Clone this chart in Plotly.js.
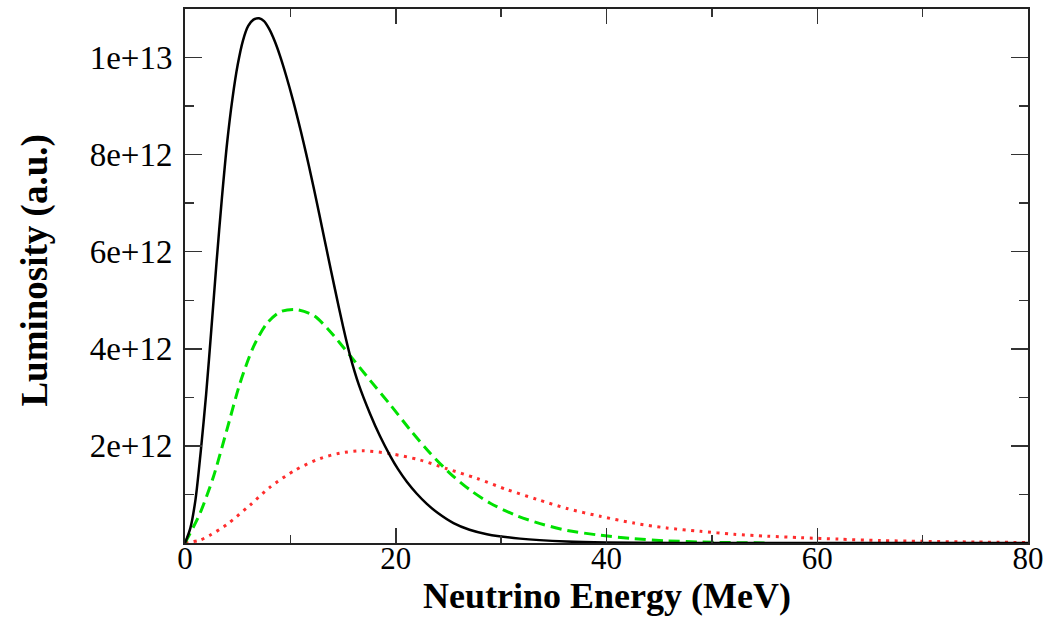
<!DOCTYPE html>
<html>
<head>
<meta charset="utf-8">
<script src="https://cdn.plot.ly/plotly-3.0.1.min.js"></script>
<style>
html,body{margin:0;padding:0;background:#fff;}
#chart{width:1055px;height:618px;}
</style>
</head>
<body>
<div id="chart"></div>
<script>
// Black solid curve
var blackE = [0, 0.5, 1.0, 1.5, 2.0, 2.5, 3.0, 3.5, 4.0, 4.5, 5.0, 5.5, 6.0, 6.5, 7.03, 7.5, 8.0, 8.5, 9.0, 9.6, 10.29, 11.0, 11.5, 12.0, 12.5, 13.0, 13.46, 14.25, 15.0, 15.67, 16.5, 17.57, 18.5, 19.47, 20.2, 21.05, 22.0, 22.95, 24.0, 25.48, 27.0, 28.65, 31.8, 36.2, 40, 50, 80];
var blackL = [0, 0.3e12, 0.9e12, 1.9e12, 3.05e12, 4.4e12, 5.8e12, 7.1e12, 8.25e12, 9.15e12, 9.85e12, 10.35e12, 10.65e12, 10.78e12, 10.81e12, 10.75e12, 10.585e12, 10.345e12, 10.045e12, 9.625e12, 9.087e12, 8.476e12, 8.016e12, 7.531e12, 7.026e12, 6.506e12, 6.023e12, 5.209e12, 4.459e12, 3.856e12, 3.258e12, 2.659e12, 2.203e12, 1.796e12, 1.526e12, 1.262e12, 1.015e12, 0.806e12, 0.617e12, 0.41e12, 0.273e12, 0.182e12, 0.09e12, 0.03e12, 0.01e12, 0, 0];
// Green dashed curve
var greenE = [0, 1.42, 2.69, 3.96, 5.22, 6.49, 7.76, 9.02, 10.45, 12.19, 13.6, 15.67, 17.57, 19.47, 21.37, 23.27, 25.17, 27.07, 28.97, 31.5, 33.7, 36.25, 39.4, 42.6, 45.7, 49, 55];
var greenL = [0, 0.61e12, 1.36e12, 2.32e12, 3.29e12, 4.04e12, 4.52e12, 4.76e12, 4.81e12, 4.69e12, 4.40e12, 3.86e12, 3.35e12, 2.85e12, 2.33e12, 1.85e12, 1.43e12, 1.09e12, 0.82e12, 0.56e12, 0.40e12, 0.26e12, 0.16e12, 0.09e12, 0.045e12, 0.02e12, 0];
// Red dotted curve
var redE = [0, 1.42, 2.37, 3.96, 6.17, 8.07, 10.45, 12.82, 14.7, 16.8, 19.47, 22.3, 24.85, 27.7, 30.55, 33.4, 36.25, 39.4, 42.6, 45.7, 48.9, 52.1, 55.3, 58.4, 62, 66, 70, 75, 80];
var redL = [0, 0.06e12, 0.16e12, 0.38e12, 0.78e12, 1.15e12, 1.50e12, 1.74e12, 1.85e12, 1.90e12, 1.84e12, 1.71e12, 1.53e12, 1.33e12, 1.10e12, 0.90e12, 0.71e12, 0.55e12, 0.41e12, 0.31e12, 0.24e12, 0.18e12, 0.14e12, 0.11e12, 0.08e12, 0.05e12, 0.035e12, 0.02e12, 0.01e12];

var xTickVals = [0, 20, 40, 60, 80];
var xTickText = ['0', '20', '40', '60', '80'];
var yTickVals = [2e12, 4e12, 6e12, 8e12, 1e13];
var yTickText = ['2e+12', '4e+12', '6e+12', '8e+12', '1e+13'];
var xTitle = 'Neutrino Energy (MeV)';
var yTitle = 'Luminosity (a.u.)';

var traces = [
  {x: redE, y: redL, mode: 'lines', line: {color: 'rgb(255,45,45)', width: 3, dash: '3px,5.5px', shape: 'spline', smoothing: 0.8}, hoverinfo: 'skip'},
  {x: greenE, y: greenL, mode: 'lines', line: {color: 'rgb(0,225,0)', width: 3, dash: '11px,6px', shape: 'spline', smoothing: 0.8}, hoverinfo: 'skip'},
  {x: blackE, y: blackL, mode: 'lines', line: {color: '#000', width: 2.5, shape: 'spline', smoothing: 0.8}, hoverinfo: 'skip'}
];

var fontFam = '"Liberation Serif", "Times New Roman", serif';

var layout = {
  width: 1055, height: 618,
  margin: {l: 185, r: 27, t: 9, b: 75, pad: 0},
  paper_bgcolor: '#fff', plot_bgcolor: '#fff',
  showlegend: false,
  font: {family: fontFam, color: '#000'},
  xaxis: {
    range: [0, 80],
    tickmode: 'array', tickvals: xTickVals, ticktext: xTickText,
    ticks: 'inside', ticklen: 15, tickwidth: 1.5, tickcolor: '#333',
    minor: {dtick: 10, tick0: 0, ticks: 'inside', ticklen: 8, tickwidth: 1.5, tickcolor: '#333', showgrid: false},
    showline: true, linewidth: 2, linecolor: '#222', mirror: 'ticks',
    showgrid: false, zeroline: false,
    tickfont: {family: fontFam, size: 31, color: '#000'},
    ticklabelstandoff: -13
  },
  yaxis: {
    range: [0, 1.1e13],
    tickmode: 'array', tickvals: yTickVals, ticktext: yTickText,
    ticks: 'inside', ticklen: 17, tickwidth: 1.5, tickcolor: '#333',
    minor: {dtick: 1e12, tick0: 0, ticks: 'inside', ticklen: 9, tickwidth: 1.5, tickcolor: '#333', showgrid: false},
    showline: true, linewidth: 2, linecolor: '#222', mirror: 'ticks',
    showgrid: false, zeroline: false,
    tickfont: {family: fontFam, size: 33, color: '#000'},
    ticklabelstandoff: 4
  },
  annotations: [
    {text: '<b>' + xTitle + '</b>', xref: 'paper', yref: 'paper', x: 0.5, y: -0.099, xanchor: 'center', yanchor: 'middle', showarrow: false, font: {family: fontFam, size: 36, color: '#000'}},
    {text: '<b>' + yTitle + '</b>', xref: 'paper', yref: 'paper', x: -0.178, y: 0.51, xanchor: 'center', yanchor: 'middle', textangle: -90, showarrow: false, font: {family: fontFam, size: 37, color: '#000'}}
  ]
};

Plotly.newPlot('chart', traces, layout, {staticPlot: true, displayModeBar: false});
</script>
</body>
</html>
